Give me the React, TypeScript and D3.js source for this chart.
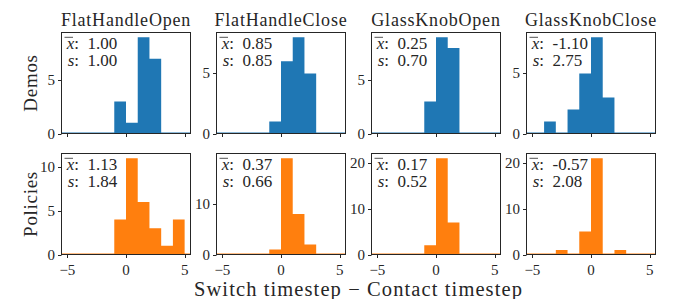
import React from 'react';
import * as d3 from 'd3';

// histogram bins: integer edges, width 1
const binStarts = [-6, -5, -4, -3, -2, -1, 0, 1, 2, 3, 4, 5];
const tasks = ['FlatHandleOpen', 'FlatHandleClose', 'GlassKnobOpen', 'GlassKnobClose'];

const demosFlatHandleOpen = [0, 0, 0, 0, 0, 3, 1, 9, 7, 0, 0, 0];
const demosFlatHandleClose = [0, 0, 0, 0, 0, 1, 6, 8, 5, 0, 0, 0];
const demosGlassKnobOpen = [0, 0, 0, 0, 0, 3, 9, 8, 0, 0, 0, 0];
const demosGlassKnobClose = [0, 0, 1, 0, 2, 5, 8, 3, 0, 0, 0, 0];

const policiesFlatHandleOpen = [0, 0, 0, 0, 0, 4, 11, 6, 3, 1, 4, 0];
const policiesFlatHandleClose = [0, 0, 0, 0, 0, 1, 19, 8, 2, 0, 0, 0];
const policiesGlassKnobOpen = [0, 0, 0, 0, 0, 2, 21, 7, 0, 0, 0, 0];
const policiesGlassKnobClose = [0, 0, 0, 1, 0, 5, 21, 0, 1, 0, 0, 0];

const demoMeans = ['1.00', '0.85', '0.25', '-1.10'];
const demoSds = ['1.00', '0.85', '0.70', '2.75'];
const policyMeans = ['1.13', '0.37', '0.17', '-0.57'];
const policySds = ['1.84', '0.66', '0.52', '2.08'];

const xTicks = [-5, 0, 5];
const demoYTicks = [[0, 5], [0, 5], [0, 5], [0, 5]];
const policyYTicks = [[0, 5, 10], [0, 10], [0, 10, 20], [0, 10, 20]];

const rows = [
  { label: 'Demos', color: '#1f77b4', counts: [demosFlatHandleOpen, demosFlatHandleClose, demosGlassKnobOpen, demosGlassKnobClose], means: demoMeans, sds: demoSds, yTicks: demoYTicks },
  { label: 'Policies', color: '#ff7f0e', counts: [policiesFlatHandleOpen, policiesFlatHandleClose, policiesGlassKnobOpen, policiesGlassKnobClose], means: policyMeans, sds: policySds, yTicks: policyYTicks },
];

const W = 677, H = 299;
const lefts = [61.5, 216.5, 371.5, 526.5];
const tops = [32.5, 153.5];
const pw = 129, ph = 101;
const ink = '#262626';
const font = "'Liberation Serif', 'DejaVu Serif', serif";
const fmtTick = (v: number) => (v < 0 ? '\u2212' + Math.abs(v) : String(v));

export default function App() {
  return (
    <svg width={W} height={H} style={{ position: 'absolute', left: 0, top: 0, background: '#fff', fontFamily: font }}>
      <defs>
        {rows.map((r, ri) => tasks.map((t, ci) => (
          <clipPath id={`clip-${ri}-${ci}`} key={`${ri}-${ci}`}>
            <rect x={lefts[ci]} y={tops[ri]} width={pw} height={ph} />
          </clipPath>
        )))}
      </defs>
      {rows.map((row, ri) => {
        const top = tops[ri];
        return (
          <g key={row.label}>
            <text transform={`translate(36.5,${top + ph / 2}) rotate(-90)`} textAnchor="middle" style={{ fontSize: 19, letterSpacing: 0.7 }} fill={ink}>{row.label}</text>
            {tasks.map((task, ci) => {
              const left = lefts[ci];
              const counts = row.counts[ci];
              const x = d3.scaleLinear().domain([-5.5, 5.5]).range([left, left + pw]);
              const y = d3.scaleLinear().domain([0, (d3.max(counts) as number) * 1.05]).range([top + ph, top]);
              const y0 = y(0);
              // step outline of the histogram; empty bins keep a 1px sliver on the baseline
              const pts: [number, number][] = binStarts.map((b, i) => [b, counts[i]]);
              pts.push([binStarts[binStarts.length - 1] + 1, counts[counts.length - 1]]);
              const area = d3.area<[number, number]>()
                .curve(d3.curveStepAfter)
                .x((d) => x(d[0]))
                .y0(y0)
                .y1((d) => (d[1] > 0 ? y(d[1]) : y0 - 1));
              return (
                <g key={task}>
                  {ri === 0 && (
                    <text x={left + pw / 2} y={26} textAnchor="middle" style={{ fontSize: 18, letterSpacing: 0.8 }} fill={ink}>{task}</text>
                  )}
                  <g clipPath={`url(#clip-${ri}-${ci})`}>
                    <path d={area(pts) as string} fill={row.color} />
                  </g>
                  <rect x={left} y={top} width={pw} height={ph} fill="none" stroke={ink} strokeWidth={1} />
                  {xTicks.map((t) => (
                    <g key={t}>
                      <line x1={Math.round(x(t)) + 0.5} x2={Math.round(x(t)) + 0.5} y1={top + ph} y2={top + ph + 3.5} stroke={ink} />
                      {ri === 1 && (
                        <text x={x(t)} y={275} textAnchor="middle" style={{ fontSize: 15 }} fill={ink}>{fmtTick(t)}</text>
                      )}
                    </g>
                  ))}
                  {row.yTicks[ci].map((t) => (
                    <g key={t}>
                      <line x1={left - 3.5} x2={left} y1={Math.round(y(t)) + 0.5} y2={Math.round(y(t)) + 0.5} stroke={ink} />
                      <text x={left - 6.5} y={y(t)} dy="0.34em" textAnchor="end" style={{ fontSize: 15 }} fill={ink}>{fmtTick(t)}</text>
                    </g>
                  ))}
                  <g style={{ fontSize: 17 }} fill={ink}>
                    <line x1={left + 3} x2={left + 11.5} y1={top + 4.8} y2={top + 4.8} stroke={ink} strokeWidth={0.8} />
                    <text x={left + 17.5} y={top + 16.5} textAnchor="end"><tspan fontStyle="italic">x</tspan>:</text>
                    <text x={left + 26} y={top + 16.5}>{row.means[ci]}</text>
                    <text x={left + 17.5} y={top + 33.5} textAnchor="end"><tspan fontStyle="italic">s</tspan>:</text>
                    <text x={left + 26} y={top + 33.5}>{row.sds[ci]}</text>
                  </g>
                </g>
              );
            })}
          </g>
        );
      })}
      <text x={358.5} y={295.5} textAnchor="middle" style={{ fontSize: 20.5, letterSpacing: 1.1 }} fill={ink}>Switch timestep {'\u2212'} Contact timestep</text>
    </svg>
  );
}
